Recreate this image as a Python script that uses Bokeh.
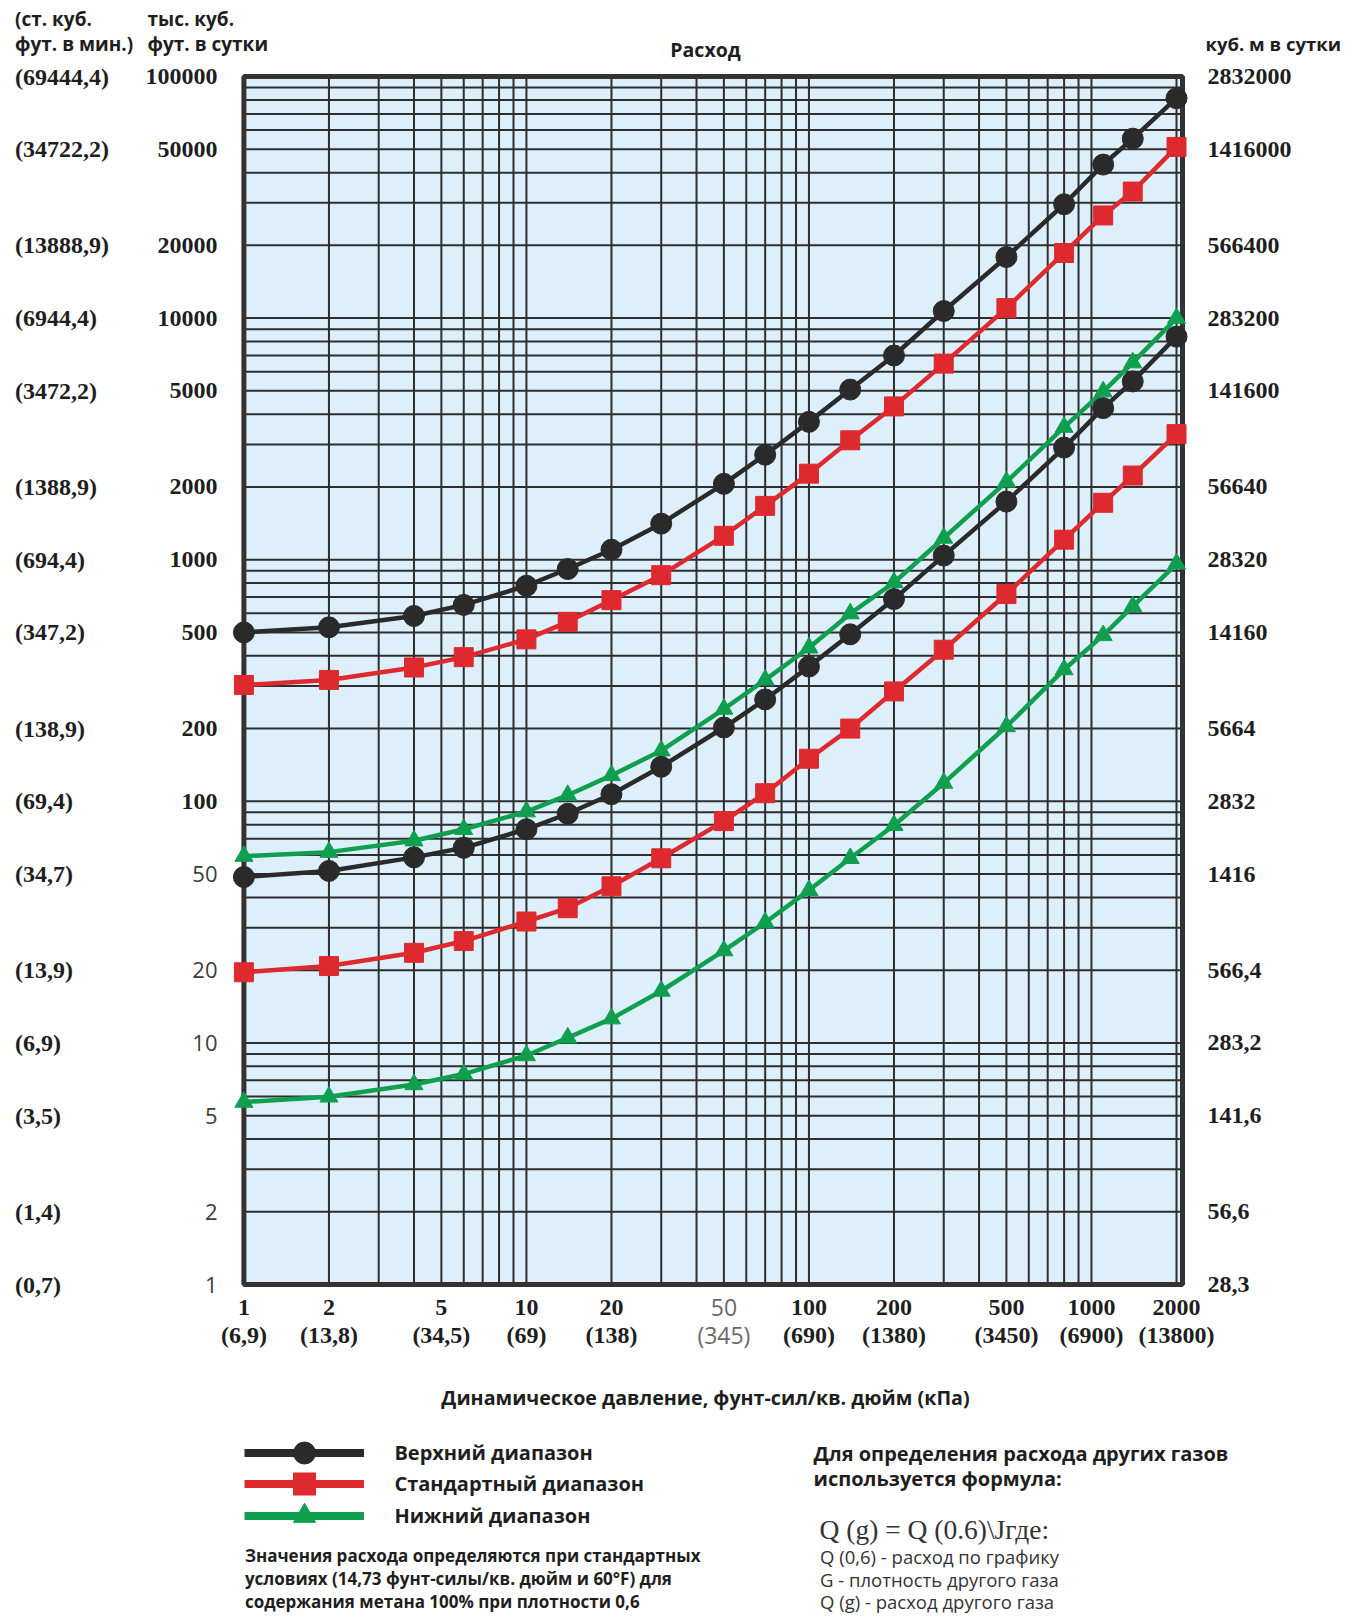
import math
from bokeh.plotting import figure
from bokeh.models import (Range1d, ColumnDataSource, LabelSet, Label, Legend, LegendItem)
from bokeh.core.properties import value
from bokeh.embed import file_html
from bokeh.resources import INLINE

# ---------------- data ----------------
pressure_psi = [1, 2, 4, 6, 10, 14, 20, 30, 50, 70, 100, 140, 200, 300, 500, 800, 1100, 1400, 2000]

upper_high = [500, 525, 585, 650, 780, 915, 1100, 1410, 2060, 2720, 3720, 5060, 7000,
              10700, 17900, 29600, 43200, 55300, 81300]
upper_std = [303, 318, 358, 395, 468, 553, 680, 863, 1256, 1670, 2270, 3120, 4310,
             6480, 11000, 18600, 26600, 33400, 51100]
upper_low = [59.3, 61.6, 68.7, 76.6, 90.6, 106, 128, 162, 241, 318, 432, 598, 805,
             1230, 2100, 3540, 4960, 6540, 10000]
lower_high = [48.6, 51.5, 58.6, 64.2, 76.6, 88.8, 107, 139, 202, 264, 361, 491, 687,
              1040, 1740, 2910, 4240, 5470, 8380]
lower_std = [19.6, 20.8, 23.6, 26.4, 31.8, 36.1, 44.5, 58.1, 82.8, 108, 150, 200, 285,
             424, 721, 1210, 1720, 2230, 3310]
lower_low = [5.69, 5.98, 6.73, 7.43, 8.87, 10.5, 12.6, 16.4, 24.1, 31.5, 42.8, 58.1, 79.6,
             119, 204, 351, 486, 641, 962]

y_ticks = [100000, 50000, 20000, 10000, 5000, 2000, 1000, 500, 200, 100, 50, 20, 10, 5, 2, 1]
y_labels_kcfd = ["100000", "50000", "20000", "10000", "5000", "2000", "1000", "500", "200",
                 "100", "50", "20", "10", "5", "2", "1"]
y_labels_cfm = ["(69444,4)", "(34722,2)", "(13888,9)", "(6944,4)", "(3472,2)", "(1388,9)",
                "(694,4)", "(347,2)", "(138,9)", "(69,4)", "(34,7)", "(13,9)", "(6,9)",
                "(3,5)", "(1,4)", "(0,7)"]
y_labels_m3d = ["2832000", "1416000", "566400", "283200", "141600", "56640", "28320",
                "14160", "5664", "2832", "1416", "566,4", "283,2", "141,6", "56,6", "28,3"]

x_ticks = [1, 2, 5, 10, 20, 50, 100, 200, 500, 1000, 2000]
x_labels_psi = ["1", "2", "5", "10", "20", "50", "100", "200", "500", "1000", "2000"]
x_labels_kpa = ["(6,9)", "(13,8)", "(34,5)", "(69)", "(138)", "(345)", "(690)", "(1380)",
                "(3450)", "(6900)", "(13800)"]

legend_labels = ["Верхний диапазон", "Стандартный диапазон", "Нижний диапазон"]

# chart extents in data units
X_MIN, X_MAX = 1, 2100
Y_MIN, Y_MAX = 1, 100000

# ---------------- layout (pixels) ----------------
W, H = 1343, 1616
PAGE = 1
CL, CT = 244.4 - PAGE, 77 - PAGE      # chart area inside the figure
CW, CH = 938.6, 1208

DX = CW / (math.log10(X_MAX) - math.log10(X_MIN))
DY = CH / (math.log10(Y_MAX) - math.log10(Y_MIN))
x_start = 10 ** (math.log10(X_MIN) - CL / DX)
x_end = 10 ** (math.log10(X_MIN) + (W - CL) / DX)
y_end = 10 ** (math.log10(Y_MAX) + CT / DY)
y_start = 10 ** (math.log10(Y_MIN) - (H - CT - CH) / DY)

BLACK = "#2a2a2a"
RED = "#de2a2f"
GREEN = "#0f9f4f"
TXT = "#1e1e1e"
GRID = "#2e2e2e"

p = figure(width=W, height=H, x_axis_type="log", y_axis_type="log",
           x_range=Range1d(x_start, x_end), y_range=Range1d(y_start, y_end),
           x_axis_location=None, y_axis_location=None,
           toolbar_location=None, output_backend="svg",
           min_border=0)
p.background_fill_color = "white"
p.border_fill_color = "white"
p.outline_line_color = None
p.grid.visible = False

# chart background
p.quad(left=[X_MIN], right=[X_MAX], bottom=[Y_MIN], top=[Y_MAX],
       fill_color="#ddeffa", line_color=None)

# logarithmic grid
xg = [m * 10 ** k for k in range(0, 4) for m in range(1, 10) if X_MIN < m * 10 ** k < X_MAX]
yg = [m * 10 ** k for k in range(0, 5) for m in range(1, 10) if Y_MIN < m * 10 ** k < Y_MAX]
p.segment(x0=xg, y0=[Y_MIN] * len(xg), x1=xg, y1=[Y_MAX] * len(xg),
          line_color=GRID, line_width=2)
p.segment(x0=[X_MIN] * len(yg), y0=yg, x1=[X_MAX] * len(yg), y1=yg,
          line_color=GRID, line_width=2)

# chart border
p.quad(left=[X_MIN], right=[X_MAX], bottom=[Y_MIN], top=[Y_MAX],
       fill_color=None, line_color="#333333", line_width=5)

series = [
    (upper_high, BLACK, "circle", 21),
    (upper_std, RED, "square", 19),
    (upper_low, GREEN, "triangle", 18),
    (lower_high, BLACK, "circle", 21),
    (lower_std, RED, "square", 19),
    (lower_low, GREEN, "triangle", 18),
]
scatters = []
for ys, col, mk, sz in series:
    src = ColumnDataSource(dict(x=pressure_psi, y=ys))
    p.line("x", "y", source=src, line_color=col, line_width=4.5)
    scatters.append(p.scatter("x", "y", source=src, marker=mk, size=sz,
                              fill_color=col, line_color=col))


def sx(px):
    return px - PAGE


def sy(py):
    return H - (py - PAGE)


SERIF = "Liberation Serif"
SANS = "Open Sans"
NUM_SIZE = "24px"

# left outer column (cfm)
p.add_layout(LabelSet(x=sx(15.5), y="y", x_units="screen", y_units="data",
                      source=ColumnDataSource(dict(y=y_ticks, t=y_labels_cfm)), text="t",
                      text_align="left", text_baseline="middle", text_font=value(SERIF),
                      text_font_style="bold", text_font_size=NUM_SIZE, text_color=TXT))
# left inner column (thousand cubic feet per day)
p.add_layout(LabelSet(x=sx(218), y="y", x_units="screen", y_units="data",
                      source=ColumnDataSource(dict(y=y_ticks[:10], t=y_labels_kcfd[:10])),
                      text="t", text_align="right", text_baseline="middle",
                      text_font=value(SERIF), text_font_style="bold", text_font_size=NUM_SIZE,
                      text_color=TXT))
p.add_layout(LabelSet(x=sx(218), y="y", x_units="screen", y_units="data",
                      source=ColumnDataSource(dict(y=y_ticks[10:], t=y_labels_kcfd[10:])),
                      text="t", text_align="right", text_baseline="middle",
                      text_font=value(SANS), text_font_style="normal", text_font_size="22px",
                      text_color="#3c3c3c"))
# right column (m3 per day)
p.add_layout(LabelSet(x=sx(1208), y="y", x_units="screen", y_units="data",
                      source=ColumnDataSource(dict(y=y_ticks, t=y_labels_m3d)), text="t",
                      text_align="left", text_baseline="middle", text_font=value(SERIF),
                      text_font_style="bold", text_font_size=NUM_SIZE, text_color=TXT))

# bottom labels
gray_idx = [5]
bold_idx = [i for i in range(len(x_ticks)) if i not in gray_idx]
for row_labels, py in ((x_labels_psi, 1308), (x_labels_kpa, 1335)):
    p.add_layout(LabelSet(x="x", y=sy(py), x_units="data", y_units="screen",
                          source=ColumnDataSource(dict(x=[x_ticks[i] for i in bold_idx],
                                                       t=[row_labels[i] for i in bold_idx])),
                          text="t", text_align="center", text_baseline="middle",
                          text_font=value(SERIF), text_font_style="bold",
                          text_font_size=NUM_SIZE, text_color=TXT))
    p.add_layout(LabelSet(x="x", y=sy(py), x_units="data", y_units="screen",
                          source=ColumnDataSource(dict(x=[x_ticks[i] for i in gray_idx],
                                                       t=[row_labels[i] for i in gray_idx])),
                          text="t", text_align="center", text_baseline="middle",
                          text_font=value(SANS), text_font_style="normal",
                          text_font_size="23px", text_color="#6a6a6a"))


def add_label(text, px, py, size, bold=True, font=SANS, align="left", color=TXT):
    p.add_layout(Label(x=sx(px), y=sy(py), x_units="screen", y_units="screen", text=text,
                       text_align=align, text_baseline="middle", text_font=font,
                       text_font_size=f"{size}px",
                       text_font_style="bold" if bold else "normal", text_color=color))


add_label("(ст. куб.", 15.5, 19, 19)
add_label("фут. в мин.)", 15.5, 44, 19)
add_label("тыс. куб.", 148, 19, 19)
add_label("фут. в сутки", 148, 44, 19)
add_label("Расход", 706, 50, 19.5, align="center")
add_label("куб. м в сутки", 1206, 44, 18.5)
add_label("Динамическое давление, фунт-сил/кв. дюйм (кПа)", 706, 1398, 19.7, align="center")

add_label("Значения расхода определяются при стандартных", 245.4, 1556, 17)
add_label("условиях (14,73 фунт-силы/кв. дюйм и 60°F) для", 245.4, 1579, 17)
add_label("содержания метана 100% при плотности 0,6", 245.4, 1602, 17)

add_label("Для определения расхода других газов", 814, 1454, 20)
add_label("используется формула:", 814, 1479, 20)
add_label("Q (g) = Q (0.6)\\Jгде:", 820, 1530, 27.5, bold=False, font=SERIF, color="#333333")
add_label("Q (0,6) - расход по графику", 820.5, 1557, 18.5, bold=False, color="#333333")
add_label("G - плотность другого газа", 820.5, 1580, 18.5, bold=False, color="#333333")
add_label("Q (g) - расход другого газа", 820.5, 1602, 18.5, bold=False, color="#333333")

# legend: one legend per entry, glyph box 120 x 55 px centred on given page rows
LEG_X = 245.4
LEG_ROWS = [1453, 1484, 1516]
GLYPH_W, GLYPH_H = 120, 55
for (ys, col, mk, sz), sc, lab, cy in zip(series[:3], scatters[:3], legend_labels, LEG_ROWS):
    # single-point line: draws nothing in the chart, only supplies the thick legend stroke
    proxy = p.line(x=pressure_psi[:1], y=ys[:1], line_color=col, line_width=8)
    leg = Legend(items=[LegendItem(label=lab, renderers=[proxy, sc])],
                 location=(sx(LEG_X), sy(cy + GLYPH_H / 2)), orientation="vertical",
                 glyph_width=GLYPH_W, glyph_height=GLYPH_H, spacing=0, padding=0, margin=0,
                 border_line_alpha=0, background_fill_alpha=0, label_standoff=30,
                 label_text_font=SANS, label_text_font_style="bold",
                 label_text_font_size="20px", label_text_color=TXT, label_height=20)
    p.add_layout(leg)

open("out.html", "w").write(file_html(p, INLINE))
